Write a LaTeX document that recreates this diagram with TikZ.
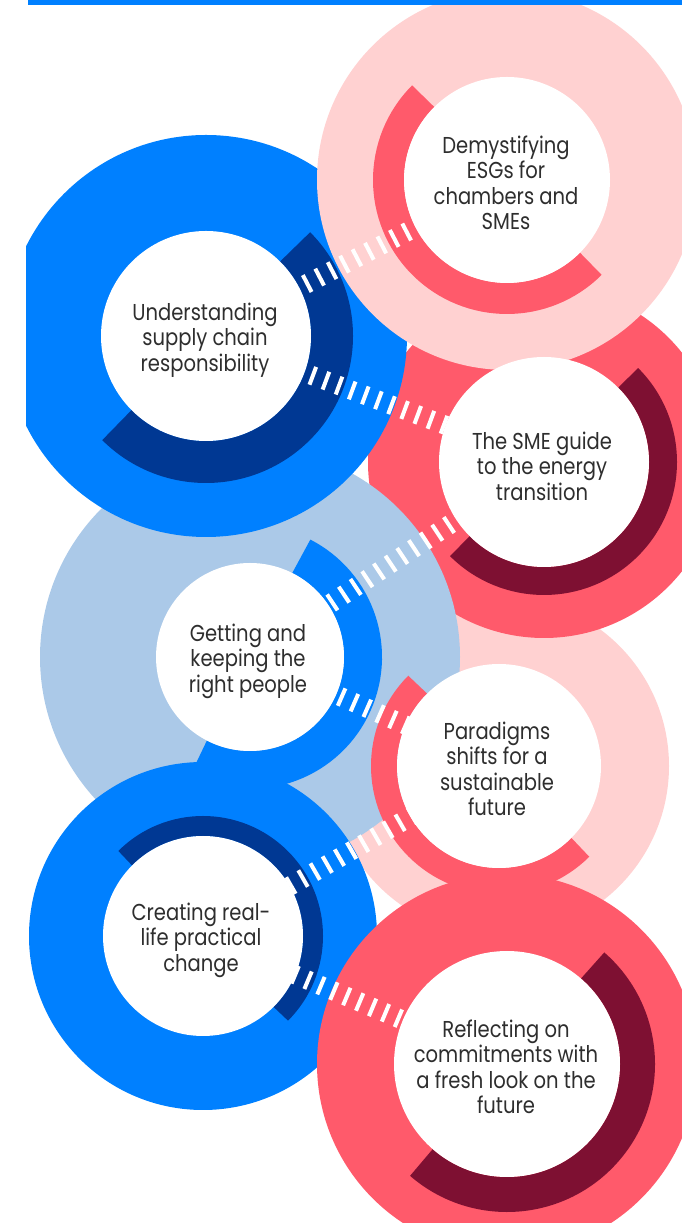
\documentclass[tikz,border=0pt]{standalone}
\usepackage{fontspec}
\setmainfont{Poppins}[FakeStretch=0.85]
\definecolor{cblue}{HTML}{0080FF}
\definecolor{cnavy}{HTML}{003893}
\definecolor{clblue}{HTML}{ABC9E8}
\definecolor{cpink}{HTML}{FFD1D1}
\definecolor{cred}{HTML}{FF5A6B}
\definecolor{cmaroon}{HTML}{7E1032}
\definecolor{ctext}{HTML}{2E2E2E}
\begin{document}
\begin{tikzpicture}[x=1pt,y=1pt,
  hub/.style={circle, fill=white, inner sep=0pt, minimum size=#1},
  lbl/.style={inner sep=0pt, align=center, text=ctext, font=\fontsize{23}{25.5}\selectfont},
  stripes/.style={white, line width=19pt, dash pattern=on 4pt off 10pt}]
\useasboundingbox (0,0) rectangle (682,1223);
\coordinate (cD) at (507,1043);
\coordinate (cU) at (206,887);
\coordinate (cS) at (544,761);
\coordinate (cG) at (250,566);
\coordinate (cP) at (499,457);
\coordinate (cC) at (203,287);
\coordinate (cR) at (507,159);
\begin{scope}
\clip (26,0) rectangle (682,1223);
% outer discs
\fill[cpink] (cP) circle[radius=170pt];
\fill[cred] (cS) circle[radius=176pt];
\fill[clblue] (cG) circle[radius=210pt];
\fill[cblue] (cU) circle[radius=201pt];
\fill[cpink] (cD) circle[radius=190pt];
\fill[cblue] (cC) circle[radius=174pt];
\fill[cred] (cR) circle[radius=190pt];
% inner arcs
\draw[cred, line width=31pt] (cD) ++(135:118.5pt) arc[start angle=135, end angle=315, radius=118.5pt];
\draw[cnavy, line width=42pt] (cU) ++(45:126pt) arc[start angle=45, end angle=-135, radius=126pt];
\draw[cmaroon, line width=28pt] (cS) ++(45:119pt) arc[start angle=45, end angle=-135, radius=119pt];
\draw[cblue, line width=38pt] (cG) ++(63:113pt) arc[start angle=63, end angle=-117, radius=113pt];
\draw[cred, line width=26pt] (cP) ++(135:115pt) arc[start angle=135, end angle=315, radius=115pt];
\draw[cnavy, line width=20pt] (cC) ++(135:110pt) arc[start angle=135, end angle=-45, radius=110pt];
\draw[cmaroon, line width=35pt] (cR) ++(49:130.5pt) arc[start angle=49, end angle=-131, radius=130.5pt];
% connectors
\draw[stripes] (cU) -- (cD);
\draw[stripes] (cU) -- (cS);
\draw[stripes] (cS) -- (cG);
\draw[stripes] (cG) -- (cP);
\draw[stripes] (cP) -- (cC);
\draw[stripes] (cC) -- (cR);
\end{scope}
% hubs
\node[hub=206pt] (D) at (cD) {};
\node[hub=210pt] (U) at (cU) {};
\node[hub=210pt] (S) at (cS) {};
\node[hub=188pt] (G) at (cG) {};
\node[hub=204pt] (P) at (cP) {};
\node[hub=200pt] (C) at (cC) {};
\node[hub=226pt] (R) at (cR) {};
% labels
\node[lbl] (tD) at ([xshift=-1pt,yshift=-3pt]D.center) {Demystifying\\ESGs for\\chambers and\\SMEs};
\node[lbl] (tU) at ([xshift=-1pt,yshift=-4pt]U.center) {Understanding\\supply chain\\responsibility};
\node[lbl] (tS) at ([xshift=-2pt,yshift=-4pt]S.center) {The SME guide\\to the energy\\transition};
\node[lbl] (tG) at ([xshift=-2pt,yshift=-4pt]G.center) {Getting and\\keeping the\\right people};
\node[lbl] (tP) at ([xshift=-2pt,yshift=-3pt]P.center) {Paradigms\\shifts for a\\sustainable\\future};
\node[lbl] (tC) at ([xshift=-2pt,yshift=-4pt]C.center) {Creating real-\\life practical\\change};
\node[lbl] (tR) at ([xshift=-1pt,yshift=-3pt]R.center) {Reflecting on\\commitments with\\a fresh look on the\\future};
\fill[cblue] (28,1218) rectangle (682,1223);
\end{tikzpicture}
\end{document}
